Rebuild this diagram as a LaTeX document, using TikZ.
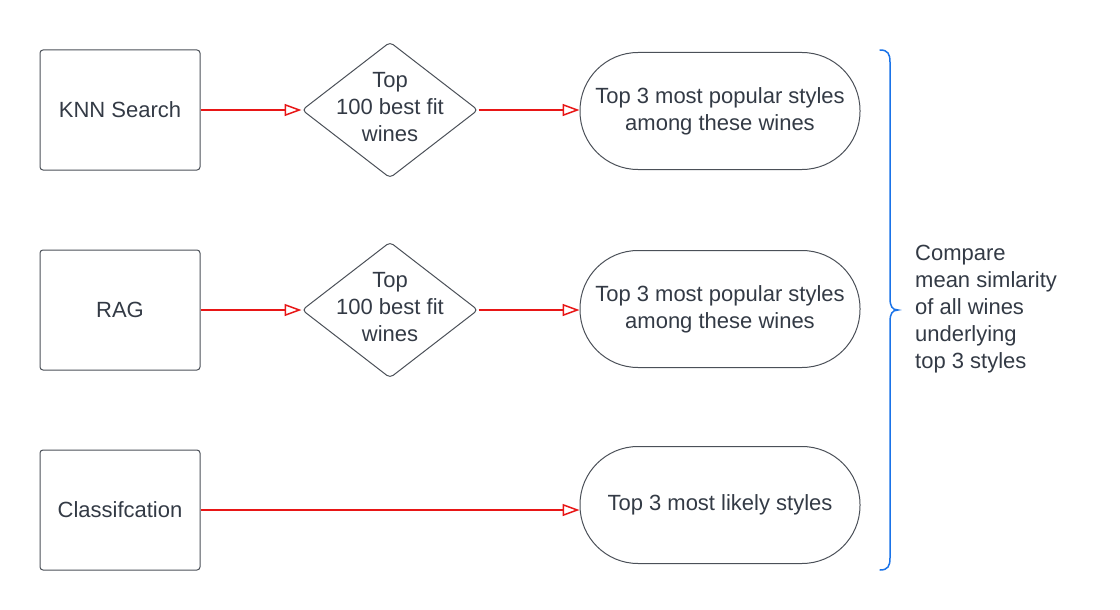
\documentclass[tikz,border=0pt]{standalone}
\usepackage{fontspec}
\setmainfont{Liberation Sans}
\usetikzlibrary{shapes.geometric,arrows.meta}
\definecolor{edgegray}{RGB}{75,80,88}
\definecolor{txtgray}{RGB}{51,58,69}
\definecolor{flowred}{RGB}{232,22,22}
\definecolor{braceblue}{RGB}{26,115,232}
\tikzset{
  base/.style={draw=edgegray,line width=1pt,text=txtgray,font=\fontsize{22}{27}\selectfont,align=center},
  srcbox/.style={base,rectangle,rounded corners=3pt,minimum width=160pt,minimum height=120pt},
  dia/.style={base,diamond,rounded corners=4pt,minimum width=176pt,minimum height=136pt,inner sep=0pt},
  pill/.style={base,rectangle,rounded corners=58pt,minimum width=280pt,minimum height=117pt},
  lbl/.style={text=txtgray,font=\fontsize{22}{27}\selectfont,align=center,inner sep=0pt},
  flow/.style={draw=flowred,line width=1.5pt,-{Triangle[open,length=17pt,width=12pt,line width=1.5pt]}},
}
\begin{document}
\begin{tikzpicture}[x=1pt,y=-1pt]
\useasboundingbox (0,0) rectangle (1120,610);
\node[srcbox] (knn) at (120,110) {KNN Search};
\node[srcbox] (rag) at (120,310) {RAG};
\node[srcbox] (cls) at (120,510) {Classifcation};
\node[dia] (d1) at (390,110) {};
\node[lbl] (d1t) at (390,107) {Top\\100 best fit\\wines};
\node[dia] (d2) at (390,310) {};
\node[lbl] (d2t) at (390,307) {Top\\100 best fit\\wines};
\node[pill] (p1) at (720,111) {Top 3 most popular styles\\among these wines};
\node[pill] (p2) at (720,309) {Top 3 most popular styles\\among these wines};
\node[pill] (p3) at (720,505) {Top 3 most likely styles};
\draw[flow] (knn.east) -- (d1.west);
\draw[flow] (d1.east) -- (d1.east -| p1.west);
\draw[flow] (rag.east) -- (d2.west);
\draw[flow] (d2.east) -- (d2.east -| p2.west);
\draw[flow] (cls.east) -- (cls.east -| p3.west);
\coordinate (bt) at (880,50);
\coordinate (bm) at (898,310);
\coordinate (bb) at (880,570);
\draw[braceblue,line width=1.5pt,line cap=round]
  (bt) .. controls (888,50) and (890,54) .. (890,62) -- (890,298)
  .. controls (890,306) and (892,310) .. (bm)
  .. controls (892,310) and (890,314) .. (890,322) -- (890,558)
  .. controls (890,566) and (888,570) .. (bb);
\node[lbl,align=left,anchor=west] (cmp) at (915,309) {Compare\\mean simlarity\\of all wines\\underlying\\top 3 styles};
\end{tikzpicture}
\end{document}
